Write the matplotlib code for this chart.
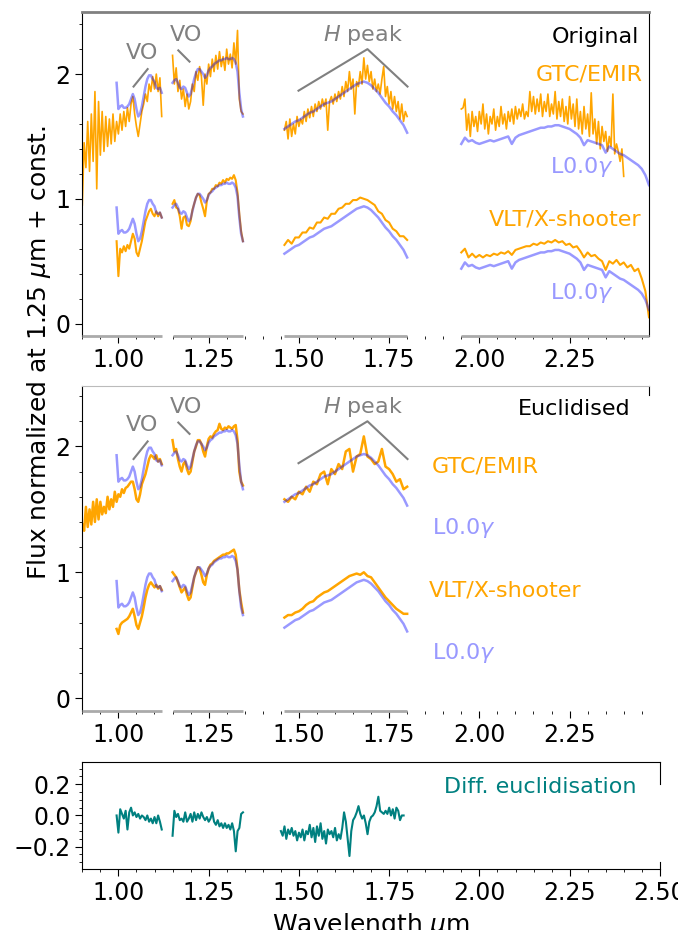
import numpy as np
import matplotlib.pyplot as plt
from matplotlib.ticker import MultipleLocator

# wavelength grids (micron)
wl_j = [0.900, 0.905, 0.910, 0.915, 0.920, 0.925, 0.930, 0.935, 0.940, 0.945,
        0.950, 0.955, 0.960, 0.965, 0.970, 0.975, 0.980, 0.985, 0.990, 0.995,
        1.000, 1.005, 1.010, 1.015, 1.020, 1.025, 1.030, 1.035, 1.040, 1.045,
        1.050, 1.055, 1.060, 1.065, 1.070, 1.075, 1.080, 1.085, 1.090, 1.095,
        1.100, 1.105, 1.110, 1.115, 1.120]
wl_j1 = [0.995, 1.000, 1.005, 1.010, 1.015, 1.020, 1.025, 1.030, 1.035, 1.040,
         1.045, 1.050, 1.055, 1.060, 1.065, 1.070, 1.075, 1.080, 1.085, 1.090,
         1.095, 1.100, 1.105, 1.110, 1.115, 1.120]
wl_j2 = [1.150, 1.155, 1.160, 1.165, 1.170, 1.175, 1.180, 1.185, 1.190, 1.195,
         1.200, 1.205, 1.210, 1.215, 1.220, 1.225, 1.230, 1.235, 1.240, 1.245,
         1.250, 1.255, 1.260, 1.265, 1.270, 1.275, 1.280, 1.285, 1.290, 1.295,
         1.300, 1.305, 1.310, 1.315, 1.320, 1.325, 1.330, 1.335, 1.340, 1.345]
wl_h = [1.46, 1.47, 1.48, 1.49, 1.50, 1.51, 1.52, 1.53, 1.54, 1.55,
        1.56, 1.57, 1.58, 1.59, 1.60, 1.61, 1.62, 1.63, 1.64, 1.65,
        1.66, 1.67, 1.68, 1.69, 1.70, 1.71, 1.72, 1.73, 1.74, 1.75,
        1.76, 1.77, 1.78, 1.79, 1.80]
wl_h_fine = [1.460, 1.465, 1.470, 1.475, 1.480, 1.485, 1.490, 1.495, 1.500, 1.505,
             1.510, 1.515, 1.520, 1.525, 1.530, 1.535, 1.540, 1.545, 1.550, 1.555,
             1.560, 1.565, 1.570, 1.575, 1.580, 1.585, 1.590, 1.595, 1.600, 1.605,
             1.610, 1.615, 1.620, 1.625, 1.630, 1.635, 1.640, 1.645, 1.650, 1.655,
             1.660, 1.665, 1.670, 1.675, 1.680, 1.685, 1.690, 1.695, 1.700, 1.705,
             1.710, 1.715, 1.720, 1.725, 1.730, 1.735, 1.740, 1.745, 1.750, 1.755,
             1.760, 1.765, 1.770, 1.775, 1.780, 1.785, 1.790, 1.795, 1.800]
wl_h_diff = [1.450, 1.455, 1.460, 1.465, 1.470, 1.475, 1.480, 1.485, 1.490, 1.495,
             1.500, 1.505, 1.510, 1.515, 1.520, 1.525, 1.530, 1.535, 1.540, 1.545,
             1.550, 1.555, 1.560, 1.565, 1.570, 1.575, 1.580, 1.585, 1.590, 1.595,
             1.600, 1.605, 1.610, 1.615, 1.620, 1.625, 1.630, 1.635, 1.640, 1.645,
             1.650, 1.655, 1.660, 1.665, 1.670, 1.675, 1.680, 1.685, 1.690, 1.695,
             1.700, 1.705, 1.710, 1.715, 1.720, 1.725, 1.730, 1.735, 1.740, 1.745,
             1.750, 1.755, 1.760, 1.765, 1.770, 1.775, 1.780, 1.785, 1.790]
wl_k = [1.95, 1.96, 1.97, 1.98, 1.99, 2.00, 2.01, 2.02, 2.03, 2.04,
        2.05, 2.06, 2.07, 2.08, 2.09, 2.10, 2.11, 2.12, 2.13, 2.14,
        2.15, 2.16, 2.17, 2.18, 2.19, 2.20, 2.21, 2.22, 2.23, 2.24,
        2.25, 2.26, 2.27, 2.28, 2.29, 2.30, 2.31, 2.32, 2.33, 2.34,
        2.35, 2.36, 2.37, 2.38, 2.39, 2.40, 2.41, 2.42, 2.43, 2.44,
        2.45, 2.46, 2.47]
wl_k_fine = [1.950, 1.955, 1.960, 1.965, 1.970, 1.975, 1.980, 1.985, 1.990, 1.995,
             2.000, 2.005, 2.010, 2.015, 2.020, 2.025, 2.030, 2.035, 2.040, 2.045,
             2.050, 2.055, 2.060, 2.065, 2.070, 2.075, 2.080, 2.085, 2.090, 2.095,
             2.100, 2.105, 2.110, 2.115, 2.120, 2.125, 2.130, 2.135, 2.140, 2.145,
             2.150, 2.155, 2.160, 2.165, 2.170, 2.175, 2.180, 2.185, 2.190, 2.195,
             2.200, 2.205, 2.210, 2.215, 2.220, 2.225, 2.230, 2.235, 2.240, 2.245,
             2.250, 2.255, 2.260, 2.265, 2.270, 2.275, 2.280, 2.285, 2.290, 2.295,
             2.300, 2.305, 2.310, 2.315, 2.320, 2.325, 2.330, 2.335, 2.340, 2.345,
             2.350, 2.355, 2.360, 2.365, 2.370, 2.375, 2.380, 2.385, 2.390, 2.395,
             2.400]

# L0.0 gamma template (upper copy; lower copy is shifted by model_shift)
model_shift = 1.0
model_j1 = [1.93, 1.72, 1.74, 1.75, 1.73, 1.73, 1.74, 1.76, 1.80, 1.84,
            1.80, 1.72, 1.66, 1.68, 1.74, 1.82, 1.90, 1.96, 1.99, 1.99,
            1.96, 1.94, 1.89, 1.88, 1.89, 1.85]
model_j2 = [1.93, 1.95, 1.96, 1.93, 1.89, 1.88, 1.90, 1.89, 1.85, 1.82,
            1.84, 1.90, 1.96, 2.01, 2.04, 2.04, 2.02, 2.00, 1.97, 1.99,
            2.03, 2.05, 2.06, 2.08, 2.09, 2.10, 2.11, 2.11, 2.12, 2.12,
            2.13, 2.12, 2.12, 2.13, 2.12, 2.09, 2.02, 1.85, 1.72, 1.66]
model_h = [1.56, 1.58, 1.60, 1.62, 1.63, 1.65, 1.67, 1.69, 1.70, 1.72,
           1.74, 1.76, 1.77, 1.78, 1.80, 1.82, 1.84, 1.86, 1.88, 1.90,
           1.92, 1.93, 1.94, 1.93, 1.91, 1.88, 1.85, 1.81, 1.77, 1.74,
           1.70, 1.67, 1.63, 1.59, 1.53]
model_k = [1.44, 1.49, 1.46, 1.47, 1.45, 1.44, 1.45, 1.46, 1.47, 1.46,
           1.47, 1.48, 1.49, 1.50, 1.44, 1.49, 1.51, 1.52, 1.53, 1.54,
           1.55, 1.56, 1.57, 1.57, 1.58, 1.58, 1.59, 1.59, 1.58, 1.57,
           1.56, 1.54, 1.52, 1.49, 1.43, 1.47, 1.46, 1.45, 1.44, 1.43,
           1.37, 1.42, 1.40, 1.38, 1.36, 1.35, 1.33, 1.31, 1.29, 1.27,
           1.24, 1.19, 1.11]

# GTC/EMIR, original resolution
gtc_orig_j = [0.95, 1.45, 1.25, 1.62, 1.22, 1.68, 1.30, 1.86, 1.08, 1.78,
              1.35, 1.70, 1.38, 1.66, 1.42, 1.64, 1.44, 1.68, 1.46, 1.62,
              1.52, 1.68, 1.55, 1.70, 1.58, 1.73, 1.62, 1.76, 1.82, 1.68,
              1.58, 1.50, 1.60, 1.70, 1.76, 1.84, 1.78, 1.92, 1.86, 1.98,
              1.88, 2.00, 1.86, 1.97, 1.66]
gtc_orig_j2 = [2.15, 1.92, 2.05, 1.86, 1.95, 1.80, 1.88, 1.74, 1.84, 1.72,
               1.78, 1.92, 1.86, 2.02, 1.95, 2.06, 1.98, 1.75, 2.00, 1.92,
               2.08, 1.98, 2.12, 2.02, 2.15, 2.04, 2.18, 2.06, 2.14, 2.03,
               2.20, 2.08, 2.16, 2.05, 2.25, 2.08, 2.35, 1.80, 1.70, 1.68]
gtc_orig_h = [1.55, 1.62, 1.48, 1.64, 1.50, 1.60, 1.52, 1.66, 1.58, 1.64,
              1.60, 1.70, 1.62, 1.72, 1.65, 1.74, 1.66, 1.76, 1.70, 1.78,
              1.72, 1.80, 1.74, 1.80, 1.55, 1.78, 1.82, 1.76, 1.84, 1.78,
              1.86, 1.80, 1.90, 1.82, 1.94, 1.86, 2.02, 1.88, 1.96, 1.68,
              1.94, 1.90, 2.02, 1.92, 2.13, 1.96, 2.07, 1.94, 2.02, 1.88,
              1.96, 1.86, 1.92, 1.84, 1.96, 2.06, 1.82, 1.90, 1.76, 1.86,
              1.72, 1.82, 1.70, 1.78, 1.64, 1.76, 1.62, 1.70, 1.66]
gtc_orig_k = [1.72, 1.73, 1.80, 1.55, 1.68, 1.50, 1.70, 1.58, 1.66, 1.54,
              1.70, 1.60, 1.76, 1.56, 1.68, 1.52, 1.66, 1.60, 1.72, 1.55,
              1.66, 1.58, 1.74, 1.60, 1.68, 1.56, 1.70, 1.62, 1.72, 1.60,
              1.74, 1.64, 1.72, 1.66, 1.76, 1.64, 1.70, 1.66,
              1.86, 1.70, 1.82, 1.68, 1.80, 1.70, 1.84, 1.66, 1.78, 1.70,
              1.84, 1.66, 1.76, 1.68, 1.86, 1.64, 1.78, 1.66, 1.80, 1.62,
              1.74, 1.60, 1.82, 1.64, 1.76, 1.58, 1.80, 1.56, 1.70, 1.52,
              1.74, 1.56, 1.68, 1.50, 1.85, 1.52, 1.64, 1.44, 1.62, 1.40,
              1.58, 1.46, 1.54, 1.38, 1.50, 1.42, 1.84, 1.36, 1.44, 1.38,
              1.30, 1.40, 1.18]

# VLT/X-shooter, original resolution
vlt_orig_j1 = [0.66, 0.38, 0.60, 0.57, 0.62, 0.58, 0.63, 0.60, 0.66, 0.72,
               0.68, 0.57, 0.54, 0.60, 0.66, 0.74, 0.82, 0.86, 0.90, 0.92,
               0.88, 0.86, 0.90, 0.86, 0.89, 0.85]
vlt_orig_j2 = [0.96, 0.99, 0.93, 0.92, 0.86, 0.76, 0.85, 0.86, 0.79, 0.78,
               0.82, 0.91, 0.96, 1.01, 1.04, 1.03, 0.97, 0.92, 0.86, 0.98,
               1.04, 1.05, 1.08, 1.08, 1.11, 1.10, 1.13, 1.12, 1.15, 1.13,
               1.16, 1.15, 1.17, 1.16, 1.19, 1.15, 1.05, 0.88, 0.74, 0.66]
vlt_orig_h = [0.63, 0.67, 0.64, 0.69, 0.69, 0.73, 0.73, 0.77, 0.76, 0.81,
              0.81, 0.85, 0.84, 0.88, 0.88, 0.92, 0.93, 0.96, 0.96, 0.99,
              0.99, 1.01, 1.00, 0.99, 0.97, 0.95, 0.90, 0.88, 0.83, 0.81,
              0.76, 0.74, 0.70, 0.70, 0.67]
vlt_orig_k = [0.57, 0.60, 0.53, 0.56, 0.53, 0.55, 0.53, 0.55, 0.54, 0.56,
              0.55, 0.57, 0.56, 0.58, 0.55, 0.59, 0.60, 0.61, 0.62, 0.62,
              0.64, 0.63, 0.65, 0.64, 0.66, 0.65, 0.67, 0.65, 0.66, 0.63,
              0.64, 0.61, 0.62, 0.58, 0.53, 0.57, 0.54, 0.55, 0.52, 0.50,
              0.43, 0.50, 0.48, 0.51, 0.47, 0.49, 0.45, 0.47, 0.42, 0.44,
              0.36, 0.26, 0.05]

# euclidised spectra
gtc_eucl_j = [1.38, 1.33, 1.52, 1.36, 1.50, 1.38, 1.56, 1.40, 1.58, 1.42,
              1.56, 1.46, 1.52, 1.47, 1.60, 1.50, 1.58, 1.52, 1.64, 1.56,
              1.62, 1.60, 1.66, 1.63, 1.67, 1.68, 1.70, 1.72, 1.72, 1.66,
              1.58, 1.56, 1.62, 1.70, 1.74, 1.78, 1.84, 1.90, 1.93, 1.92,
              1.90, 1.93, 1.88, 1.90, 1.86]
gtc_eucl_j2 = [2.05, 1.96, 1.98, 1.90, 1.84, 1.80, 1.86, 1.88, 1.82, 1.78,
               1.80, 1.88, 1.96, 2.00, 2.05, 2.05, 2.02, 1.96, 1.92, 2.00,
               2.06, 2.08, 2.07, 2.10, 2.12, 2.13, 2.18, 2.14, 2.13, 2.15,
               2.14, 2.16, 2.15, 2.14, 2.16, 2.17, 2.05, 1.80, 1.72, 1.69]
gtc_eucl_h = [1.58, 1.56, 1.60, 1.58, 1.64, 1.62, 1.68, 1.64, 1.72, 1.70,
              1.78, 1.80, 1.70, 1.82, 1.78, 1.86, 1.82, 1.96, 1.98, 1.80,
              1.92, 1.94, 2.08, 1.92, 1.90, 1.86, 1.88, 1.98, 1.84, 1.82,
              1.78, 1.72, 1.74, 1.66, 1.68]
vlt_eucl_j1 = [0.55, 0.51, 0.58, 0.60, 0.61, 0.62, 0.63, 0.65, 0.68, 0.71,
               0.65, 0.58, 0.55, 0.60, 0.65, 0.72, 0.80, 0.86, 0.90, 0.92,
               0.90, 0.88, 0.90, 0.87, 0.89, 0.86]
vlt_eucl_j2 = [1.00, 0.98, 0.96, 0.92, 0.88, 0.84, 0.86, 0.88, 0.82, 0.78,
               0.80, 0.88, 0.96, 1.00, 1.04, 1.03, 0.98, 0.92, 0.90, 0.98,
               1.03, 1.06, 1.07, 1.09, 1.10, 1.11, 1.12, 1.13, 1.14, 1.14,
               1.15, 1.15, 1.16, 1.17, 1.18, 1.14, 1.02, 0.86, 0.76, 0.68]
vlt_eucl_h = [0.64, 0.66, 0.66, 0.68, 0.69, 0.71, 0.74, 0.76, 0.77, 0.80,
              0.82, 0.84, 0.85, 0.87, 0.89, 0.91, 0.93, 0.95, 0.97, 0.98,
              0.99, 0.98, 1.00, 0.97, 0.96, 0.92, 0.88, 0.84, 0.80, 0.77,
              0.74, 0.71, 0.69, 0.67, 0.67]

# difference between the two euclidised spectra
diff_j1 = [0.00, -0.11, 0.04, 0.01, -0.02, 0.03, -0.09, 0.02, 0.05, 0.00,
           0.02, -0.01, 0.01, -0.02, 0.00, -0.01, -0.03, 0.00, -0.04, -0.02,
           -0.05, -0.01, -0.05, 0.00, -0.04, -0.09]
diff_j2 = [-0.13, 0.03, -0.01, 0.01, -0.03, -0.02, -0.04, 0.02, -0.04, -0.02,
           0.01, -0.04, 0.02, -0.03, 0.01, -0.02, 0.02, -0.01, -0.03, -0.01,
           -0.04, -0.02, 0.02, -0.04, -0.06, -0.03, -0.07, -0.05, -0.08, -0.05,
           -0.08, -0.06, -0.09, -0.05, -0.10, -0.23, -0.10, -0.08, 0.01, 0.02]
diff_h = [-0.10, -0.13, -0.07, -0.15, -0.09, -0.12, -0.08, -0.13, -0.10, -0.16,
          -0.11, -0.14, -0.09, -0.16, -0.10, -0.12, -0.06, -0.14, -0.08, -0.17,
          -0.07, -0.13, -0.05, -0.15, -0.10, -0.18, -0.09, -0.12, -0.10, -0.14,
          -0.08, -0.16, -0.12, -0.15, -0.08, 0.02, -0.04, -0.15, -0.26, -0.10,
          -0.03, -0.01, 0.02, 0.06, 0.01, -0.02, 0.00, -0.05, -0.12, -0.04,
          -0.01, 0.00, 0.02, 0.06, 0.12, 0.03, 0.02, 0.01, 0.03, 0.01,
          0.05, 0.00, 0.04, -0.02, 0.05, 0.03, -0.03, 0.00, 0.00]

orange = 'orange'
teal = 'teal'
plt.rcParams['font.size'] = 16

fig = plt.figure(figsize=(6.78, 9.30), dpi=100)
ax1 = fig.add_axes([0.1214, 0.6387, 0.8358, 0.3487])
ax2 = fig.add_axes([0.1214, 0.2358, 0.8358, 0.3491])
ax3 = fig.add_axes([0.1214, 0.0653, 0.852, 0.1157])


def draw_model(ax, wl, flux):
    ax.plot(wl, flux, color='b', alpha=0.4, lw=1.8, zorder=3)
    ax.plot(wl, np.array(flux) - model_shift, color='b', alpha=0.4, lw=1.8, zorder=3)


# top panel: original resolution
ax1.plot(wl_j, gtc_orig_j, color=orange, lw=1.2)
ax1.plot(wl_j2, gtc_orig_j2, color=orange, lw=1.2)
ax1.plot(wl_h_fine, gtc_orig_h, color=orange, lw=1.2)
ax1.plot(wl_k_fine, gtc_orig_k, color=orange, lw=1.2)
ax1.plot(wl_j1, vlt_orig_j1, color=orange, lw=1.5)
ax1.plot(wl_j2, vlt_orig_j2, color=orange, lw=1.5)
ax1.plot(wl_h, vlt_orig_h, color=orange, lw=1.5)
ax1.plot(wl_k, vlt_orig_k, color=orange, lw=1.5)
for wl, fl in [(wl_j1, model_j1), (wl_j2, model_j2), (wl_h, model_h), (wl_k, model_k)]:
    draw_model(ax1, wl, fl)

# middle panel: euclidised
ax2.plot(wl_j, gtc_eucl_j, color=orange, lw=1.8)
ax2.plot(wl_j2, gtc_eucl_j2, color=orange, lw=1.8)
ax2.plot(wl_h, gtc_eucl_h, color=orange, lw=1.8)
ax2.plot(wl_j1, vlt_eucl_j1, color=orange, lw=1.8)
ax2.plot(wl_j2, vlt_eucl_j2, color=orange, lw=1.8)
ax2.plot(wl_h, vlt_eucl_h, color=orange, lw=1.8)
for wl, fl in [(wl_j1, model_j1), (wl_j2, model_j2), (wl_h, model_h)]:
    draw_model(ax2, wl, fl)

# bottom panel: difference
ax3.plot(wl_j1, diff_j1, color=teal, lw=1.5)
ax3.plot(wl_j2, diff_j2, color=teal, lw=1.5)
ax3.plot(wl_h_diff, diff_h, color=teal, lw=1.5)

# gray bars marking the covered ranges under each panel
for ax, segs in [(ax1, [wl_j, wl_j2, wl_h, wl_k]), (ax2, [wl_j, wl_j2, wl_h])]:
    for wl in segs:
        ax.hlines(-0.1, min(wl), max(wl), color='#aaaaaa', lw=2, clip_on=False, zorder=5)

# feature annotations
for ax in (ax1, ax2):
    ax.text(1.065, 2.17, 'VO', color='gray', ha='center', va='center', fontsize=16)
    ax.plot([1.042, 1.081], [1.90, 2.04], color='gray', lw=1.5)
    ax.text(1.186, 2.31, 'VO', color='gray', ha='center', va='center', fontsize=16)
    ax.plot([1.166, 1.197], [2.19, 2.10], color='gray', lw=1.5)
    ax.text(1.678, 2.31, '$H$ peak', color='gray', ha='center', va='center', fontsize=16)
    ax.plot([1.499, 1.690, 1.801], [1.867, 2.20, 1.90], color='gray', lw=1.5)

ax1.text(2.442, 2.246, 'Original', ha='right', va='baseline', fontsize=16)
ax1.text(2.454, 1.946, 'GTC/EMIR', ha='right', va='baseline', color=orange, fontsize=16)
ax1.text(2.196, 1.203, 'L0.0$\\gamma$', ha='left', va='baseline', color='b', alpha=0.4, fontsize=16)
ax1.text(2.448, 0.789, 'VLT/X-shooter', ha='right', va='baseline', color=orange, fontsize=16)
ax1.text(2.196, 0.20, 'L0.0$\\gamma$', ha='left', va='baseline', color='b', alpha=0.4, fontsize=16)

ax2.text(2.42, 2.246, 'Euclidised', ha='right', va='baseline', fontsize=16)
ax2.text(1.868, 1.796, 'GTC/EMIR', ha='left', va='baseline', color=orange, fontsize=16)
ax2.text(1.868, 1.302, 'L0.0$\\gamma$', ha='left', va='baseline', color='b', alpha=0.4, fontsize=16)
ax2.text(1.860, 0.805, 'VLT/X-shooter', ha='left', va='baseline', color=orange, fontsize=16)
ax2.text(1.868, 0.309, 'L0.0$\\gamma$', ha='left', va='baseline', color='b', alpha=0.4, fontsize=16)

ax3.text(2.435, 0.147, 'Diff. euclidisation', ha='right', va='baseline', color=teal, fontsize=16)

# axes styling
for ax in (ax1, ax2, ax3):
    ax.xaxis.set_major_locator(MultipleLocator(0.25))
    ax.xaxis.set_minor_locator(MultipleLocator(0.05))
    ax.tick_params(which='major', labelsize=17, length=5)
    ax.tick_params(which='minor', length=2.5)

for ax, top in [(ax1, 2.5), (ax2, 2.48)]:
    ax.set_xlim(0.9, 2.47)
    ax.set_ylim(-0.1, top)
    ax.set_yticks([0, 1, 2])
    ax.yaxis.set_minor_locator(MultipleLocator(0.2))
    ax.spines['bottom'].set_visible(False)

ax1.spines['top'].set_color('gray')
ax1.spines['top'].set_linewidth(2)
ax2.spines['top'].set_color('#bbbbbb')
ax2.spines['right'].set_bounds(2.41, 2.48)

ax3.set_xlim(0.9, 2.5)
ax3.set_ylim(-0.345, 0.345)
ax3.set_yticks([-0.2, 0.0, 0.2])
ax3.yaxis.set_minor_locator(MultipleLocator(0.05))
ax3.spines['right'].set_bounds(0.205, 0.345)
ax3.axvline(2.5, ymin=0, ymax=0.07, color='black', lw=0.8, clip_on=False)
ax3.set_xlabel('Wavelength $\\mu$m', fontsize=18)

fig.text(0.058, 0.621, 'Flux normalized at 1.25 $\\mu$m + const.', rotation=90,
         ha='center', va='center', fontsize=18)

plt.savefig('out.png', dpi=100)
